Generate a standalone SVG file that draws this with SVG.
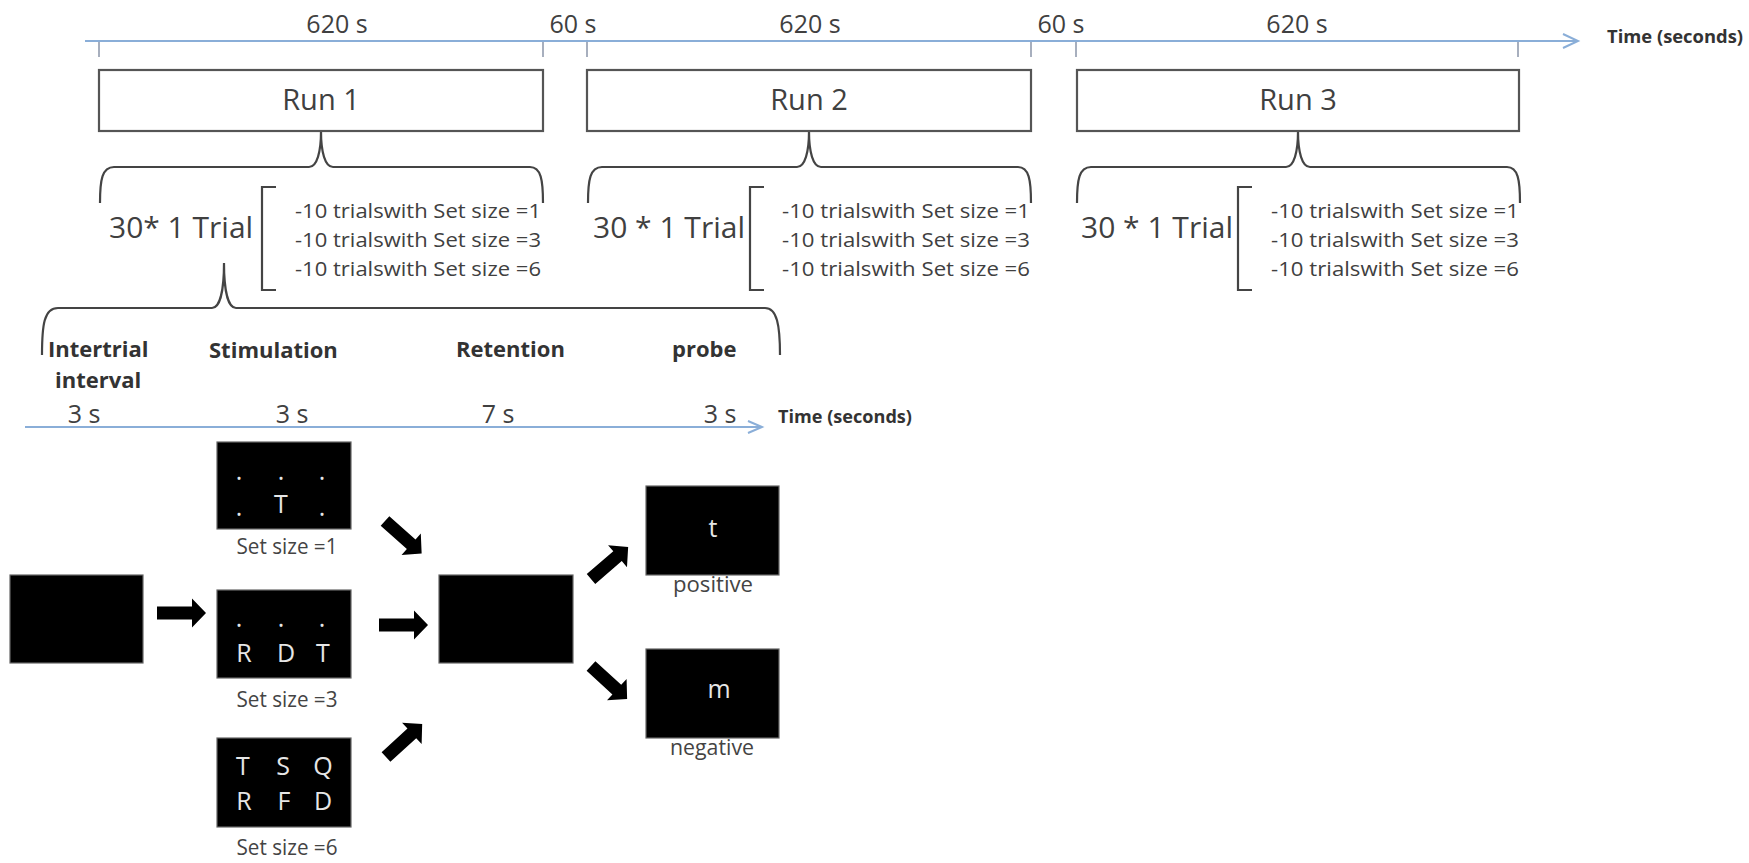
<svg xmlns="http://www.w3.org/2000/svg" width="1749" height="863" viewBox="0 0 1749 863">
<defs>
<style>
text{font-family:"Open Sans","Liberation Sans",sans-serif;}
.tl{stroke:#8aaed8;stroke-width:2;fill:none;}
.tick{stroke:#8a94a8;stroke-width:1.5;}
.run{fill:#fff;stroke:#555;stroke-width:2.2;}
.runt{font-size:29px;fill:#404040;text-anchor:middle;}
.sec{font-size:25px;fill:#404040;text-anchor:middle;}
.time{font-size:17px;font-weight:bold;fill:#333;}
.brace{fill:none;stroke:#444;stroke-width:2.2;}
.trial{font-size:30px;fill:#404040;}
.lst{font-size:20px;fill:#404040;}
.phase{font-size:22px;font-weight:bold;fill:#333;}
.scr{fill:#000;stroke:#666;stroke-width:1.2;}
.let{font-size:25px;fill:#e6e6e6;text-anchor:middle;}
.cap{font-size:21px;fill:#444;text-anchor:middle;}
.arr{fill:#000;}
</style>
<path id="blk" d="M0,-6.5 L35,-6.5 L35,-14.5 L49,0 L35,14.5 L35,6.5 L0,6.5 Z"/>
</defs>
<rect width="1749" height="863" fill="#fff"/>

<g id="connectors">
  <line class="tl" x1="85" y1="41" x2="1577" y2="41"/>
  <polyline class="tl" points="1563,34 1578,41 1563,48"/>
  <line class="tick" x1="99" y1="42" x2="99" y2="57"/>
  <line class="tick" x1="543" y1="42" x2="543" y2="57"/>
  <line class="tick" x1="587" y1="42" x2="587" y2="57"/>
  <line class="tick" x1="1031" y1="42" x2="1031" y2="57"/>
  <line class="tick" x1="1076" y1="42" x2="1076" y2="57"/>
  <line class="tick" x1="1518" y1="42" x2="1518" y2="57"/>
  <line class="tl" x1="25" y1="427" x2="761" y2="427"/>
  <polyline class="tl" points="748,421 762,427 748,433"/>
  <path class="brace" d="M100,203 C100,180 102,167 114,167 L309,167 C317,167 321,152 321,131 C321,152 325,167 333,167 L530,167 C541,167 543,180 543,203"/>
  <path class="brace" d="M588,203 C588,180 590,167 602,167 L797,167 C805,167 809,152 809,131 C809,152 813,167 821,167 L1018,167 C1029,167 1031,180 1031,203"/>
  <path class="brace" d="M1077,203 C1077,180 1079,167 1091,167 L1286,167 C1294,167 1298,152 1298,131 C1298,152 1302,167 1310,167 L1507,167 C1518,167 1520,180 1520,203"/>
  <path class="brace" d="M42,355 C42,325 44,308 58,308 L212,308 C220,308 224,290 224,263 C224,290 228,308 236,308 L765,308 C777,308 780,325 780,355"/>
  <use href="#blk" class="arr" transform="translate(157,613)"/>
  <use href="#blk" class="arr" transform="translate(379,625)"/>
  <use href="#blk" class="arr" transform="translate(385,521) rotate(41.6)"/>
  <use href="#blk" class="arr" transform="translate(386,757) rotate(-42.4)"/>
  <use href="#blk" class="arr" transform="translate(591,579) rotate(-40.7)"/>
  <use href="#blk" class="arr" transform="translate(591,666) rotate(42.5)"/>
</g>

<g id="timeline-labels">
  <text class="sec" x="337" y="33">620 s</text>
  <text class="sec" x="573" y="33">60 s</text>
  <text class="sec" x="810" y="33">620 s</text>
  <text class="sec" x="1061" y="33">60 s</text>
  <text class="sec" x="1297" y="33">620 s</text>
  <text class="time" x="1607" y="43" textLength="136" lengthAdjust="spacingAndGlyphs">Time (seconds)</text>
</g>

<g id="run1">
  <rect class="run" x="99" y="70" width="444" height="61"/>
  <text class="runt" x="321" y="110">Run 1</text>
</g>
<g id="run2">
  <rect class="run" x="587" y="70" width="444" height="61"/>
  <text class="runt" x="809" y="110">Run 2</text>
</g>
<g id="run3">
  <rect class="run" x="1077" y="70" width="442" height="61"/>
  <text class="runt" x="1298" y="110">Run 3</text>
</g>

<g id="trials1">
  <text class="trial" x="109" y="238">30* 1 Trial</text>
  <path class="brace" d="M276,187 L262,187 L262,290 L276,290"/>
  <text class="lst" x="295" y="218" textLength="246" lengthAdjust="spacingAndGlyphs">-10 trialswith Set size =1</text>
  <text class="lst" x="295" y="247" textLength="246" lengthAdjust="spacingAndGlyphs">-10 trialswith Set size =3</text>
  <text class="lst" x="295" y="276" textLength="246" lengthAdjust="spacingAndGlyphs">-10 trialswith Set size =6</text>
</g>
<g id="trials2">
  <text class="trial" x="593" y="238">30 * 1 Trial</text>
  <path class="brace" d="M764,187 L750,187 L750,290 L764,290"/>
  <text class="lst" x="782" y="218" textLength="248" lengthAdjust="spacingAndGlyphs">-10 trialswith Set size =1</text>
  <text class="lst" x="782" y="247" textLength="248" lengthAdjust="spacingAndGlyphs">-10 trialswith Set size =3</text>
  <text class="lst" x="782" y="276" textLength="248" lengthAdjust="spacingAndGlyphs">-10 trialswith Set size =6</text>
</g>
<g id="trials3">
  <text class="trial" x="1081" y="238">30 * 1 Trial</text>
  <path class="brace" d="M1252,187 L1238,187 L1238,290 L1252,290"/>
  <text class="lst" x="1271" y="218" textLength="248" lengthAdjust="spacingAndGlyphs">-10 trialswith Set size =1</text>
  <text class="lst" x="1271" y="247" textLength="248" lengthAdjust="spacingAndGlyphs">-10 trialswith Set size =3</text>
  <text class="lst" x="1271" y="276" textLength="248" lengthAdjust="spacingAndGlyphs">-10 trialswith Set size =6</text>
</g>

<g id="phases">
  <text class="phase" x="48" y="357">Intertrial</text>
  <text class="phase" x="55" y="388">interval</text>
  <text class="phase" x="209" y="358">Stimulation</text>
  <text class="phase" x="456" y="357">Retention</text>
  <text class="phase" x="672" y="357">probe</text>
  <text class="sec" x="84" y="423">3 s</text>
  <text class="sec" x="292" y="423">3 s</text>
  <text class="sec" x="498" y="423">7 s</text>
  <text class="sec" x="720" y="423">3 s</text>
  <text class="time" x="778" y="423" textLength="134" lengthAdjust="spacingAndGlyphs">Time (seconds)</text>
</g>

<g id="iti-screen">
  <rect class="scr" x="10" y="575" width="133" height="88"/>
</g>

<g id="setsize1">
  <rect class="scr" x="217" y="442" width="134" height="87"/>
  <text class="let" x="239" y="480">.</text>
  <text class="let" x="281" y="480">.</text>
  <text class="let" x="322" y="480">.</text>
  <text class="let" x="239" y="516">.</text>
  <text class="let" x="281" y="513">T</text>
  <text class="let" x="322" y="516">.</text>
  <text class="cap" x="287" y="554" textLength="101" lengthAdjust="spacingAndGlyphs">Set size =1</text>
</g>

<g id="setsize3">
  <rect class="scr" x="217" y="590" width="134" height="88"/>
  <text class="let" x="239" y="627">.</text>
  <text class="let" x="281" y="627">.</text>
  <text class="let" x="322" y="627">.</text>
  <text class="let" x="244" y="662">R</text>
  <text class="let" x="286" y="662">D</text>
  <text class="let" x="323" y="662">T</text>
  <text class="cap" x="287" y="707" textLength="101" lengthAdjust="spacingAndGlyphs">Set size =3</text>
</g>

<g id="setsize6">
  <rect class="scr" x="217" y="738" width="134" height="89"/>
  <text class="let" x="243" y="775">T</text>
  <text class="let" x="283" y="775">S</text>
  <text class="let" x="323" y="775">Q</text>
  <text class="let" x="244" y="810">R</text>
  <text class="let" x="284" y="810">F</text>
  <text class="let" x="323" y="810">D</text>
  <text class="cap" x="287" y="855" textLength="101" lengthAdjust="spacingAndGlyphs">Set size =6</text>
</g>

<g id="retention-screen">
  <rect class="scr" x="439" y="575" width="134" height="88"/>
</g>

<g id="probe-positive">
  <rect class="scr" x="646" y="486" width="133" height="89"/>
  <text class="let" x="713" y="537">t</text>
  <text class="cap" x="713" y="592" textLength="80" lengthAdjust="spacingAndGlyphs">positive</text>
</g>

<g id="probe-negative">
  <rect class="scr" x="646" y="649" width="133" height="89"/>
  <text class="let" x="719" y="698">m</text>
  <text class="cap" x="712" y="755" textLength="84" lengthAdjust="spacingAndGlyphs">negative</text>
</g>
</svg>
